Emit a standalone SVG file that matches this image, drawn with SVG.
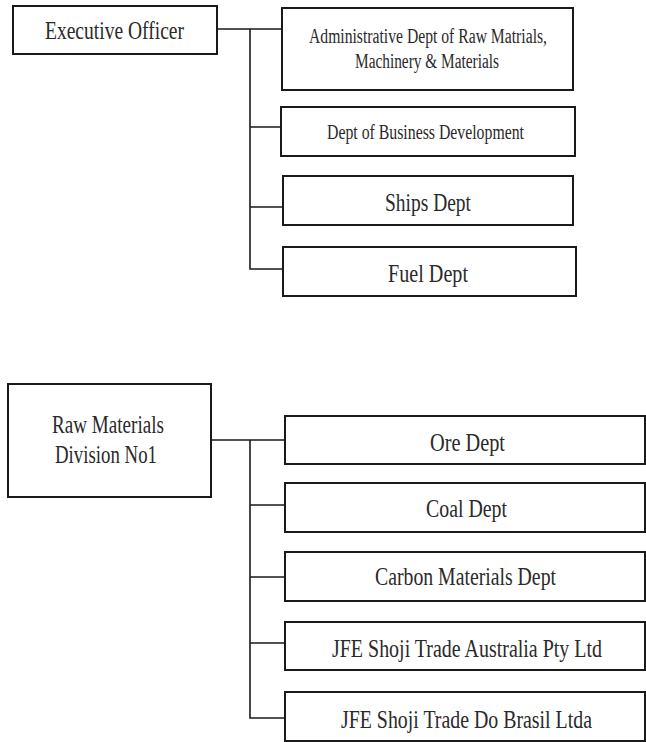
<svg xmlns="http://www.w3.org/2000/svg" width="646" height="742" viewBox="0 0 646 742">
<style>
.box{fill:#fff;stroke:#1a1a1a;stroke-width:2}
.conn{fill:none;stroke:#1a1a1a;stroke-width:1.6}
text{font-family:"Liberation Serif","Times New Roman",serif;fill:#2a2a2a}
.lg{font-size:25px}
.sm{font-size:20px}
</style>
<rect width="646" height="742" fill="#fff"/>
<g id="connectors">
<path class="conn" d="M217 29H283M250 29V269H284M250 127H282M250 207H284"/>
<path class="conn" d="M211 440H285M250 440V718H285M250 505H285M250 577H285M250 643H285"/>
</g>
<g id="executive-officer">
<rect class="box" x="13" y="6" width="204" height="48"/>
<text class="lg" x="45" y="39" textLength="139" lengthAdjust="spacingAndGlyphs">Executive Officer</text>
</g>
<g id="admin-dept">
<rect class="box" x="282" y="8" width="291" height="82"/>
<text class="sm" x="309" y="43" textLength="238" lengthAdjust="spacingAndGlyphs">Administrative Dept of Raw Matrials,</text>
<text class="sm" x="355" y="68" textLength="144" lengthAdjust="spacingAndGlyphs">Machinery &amp; Materials</text>
</g>
<g id="business-dev">
<rect class="box" x="281" y="107" width="294" height="49"/>
<text class="sm" x="327" y="139" textLength="197" lengthAdjust="spacingAndGlyphs">Dept of Business Development</text>
</g>
<g id="ships-dept">
<rect class="box" x="283" y="176" width="290" height="49"/>
<text class="lg" x="385" y="211" textLength="86" lengthAdjust="spacingAndGlyphs">Ships Dept</text>
</g>
<g id="fuel-dept">
<rect class="box" x="283" y="247" width="293" height="49"/>
<text class="lg" x="388" y="282" textLength="80" lengthAdjust="spacingAndGlyphs">Fuel Dept</text>
</g>
<g id="raw-materials-div">
<rect class="box" x="8" y="384" width="203" height="113"/>
<text class="lg" x="52" y="433" textLength="112" lengthAdjust="spacingAndGlyphs">Raw Materials</text>
<text class="lg" x="55" y="463" textLength="102" lengthAdjust="spacingAndGlyphs">Division No1</text>
</g>
<g id="ore-dept">
<rect class="box" x="285" y="416" width="360" height="48"/>
<text class="lg" x="430" y="451" textLength="75" lengthAdjust="spacingAndGlyphs">Ore Dept</text>
</g>
<g id="coal-dept">
<rect class="box" x="285" y="483" width="360" height="49"/>
<text class="lg" x="426" y="517" textLength="81" lengthAdjust="spacingAndGlyphs">Coal Dept</text>
</g>
<g id="carbon-dept">
<rect class="box" x="285" y="552" width="360" height="49"/>
<text class="lg" x="375" y="585" textLength="181" lengthAdjust="spacingAndGlyphs">Carbon Materials Dept</text>
</g>
<g id="jfe-australia">
<rect class="box" x="285" y="622" width="360" height="48"/>
<text class="lg" transform="translate(332 657) scale(0.8 1)" x="0" y="0" textLength="337.5" lengthAdjust="spacingAndGlyphs">JFE Shoji Trade Australia Pty Ltd</text>
</g>
<g id="jfe-brasil">
<rect class="box" x="285" y="692" width="360" height="49"/>
<text class="lg" transform="translate(341 728) scale(0.8 1)" x="0" y="0" textLength="313.75" lengthAdjust="spacingAndGlyphs">JFE Shoji Trade Do Brasil Ltda</text>
</g>
</svg>
